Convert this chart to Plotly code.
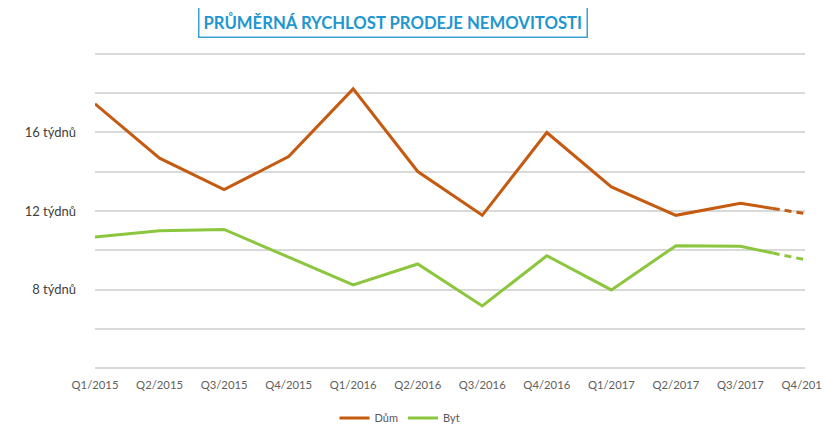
import plotly.graph_objects as go

quarters = ["Q1/2015", "Q2/2015", "Q3/2015", "Q4/2015", "Q1/2016", "Q2/2016",
            "Q3/2016", "Q4/2016", "Q1/2017", "Q2/2017", "Q3/2017", "Q4/2017"]
dum = [17.46, 14.69, 13.09, 14.77, 18.22, 14.01, 11.78, 16.0, 13.23, 11.78, 12.39, 11.87]
byt = [10.68, 10.99, 11.06, 9.64, 8.24, 9.30, 7.16, 9.72, 7.98, 10.23, 10.20, 9.52]
y_ticks = [4, 6, 8, 10, 12, 14, 16, 18, 20]
y_labels = ["", "", "8 týdnů", "", "12 týdnů", "", "16 týdnů", "", ""]
title_text = "PRŮMĚRNÁ RYCHLOST PRODEJE NEMOVITOSTI"

c_dum = "#C55A11"
c_byt = "#8CC63F"

fig = go.Figure()
xs = list(range(len(quarters)))


def add_series(name, vals, color):
    n = len(vals)
    mid_x = (xs[n - 2] + xs[n - 1]) / 2
    mid_y = (vals[n - 2] + vals[n - 1]) / 2
    fig.add_trace(go.Scatter(x=xs[:n - 1] + [mid_x], y=vals[:n - 1] + [mid_y], mode="lines",
                             name=name, line=dict(color=color, width=3), hoverinfo="skip"))
    fig.add_trace(go.Scatter(x=[mid_x, xs[n - 1]], y=[mid_y, vals[n - 1]], mode="lines",
                             showlegend=False, line=dict(color=color, width=3, dash="7px,5px"),
                             hoverinfo="skip"))


add_series("Dům", dum, c_dum)
add_series("Byt", byt, c_byt)

fig.update_layout(
    width=822, height=416,
    margin=dict(l=87, r=25, t=44, b=54, autoexpand=False),
    paper_bgcolor="white", plot_bgcolor="white",
    font=dict(family="Lato", color="#595959", size=12),
    showlegend=True,
    legend=dict(orientation="h", x=0.4296, xanchor="center", y=-0.151, yanchor="middle",
                font=dict(size=11, color="#595959"), itemwidth=30, tracegroupgap=0),
    xaxis=dict(range=[0, 11], tickmode="array", tickvals=xs, ticktext=quarters,
               showgrid=False, zeroline=False, showline=False, automargin=False,
               ticklabeloverflow="allow",
               tickfont=dict(size=11.3, color="#606060"), ticks="", ticklabelstandoff=7),
    yaxis=dict(range=[3.9, 20.1], tickmode="array", tickvals=y_ticks, ticktext=y_labels,
               showgrid=True, gridcolor="#D9D9D9", gridwidth=1.5, zeroline=False, showline=False,
               automargin=False,
               tickfont=dict(size=13, color="#404040"), ticks="", ticklabelstandoff=18),
    annotations=[dict(text="<b>" + title_text + "</b>", xref="paper", yref="paper",
                      x=0.4204, y=1.0943, xanchor="center", yanchor="middle", showarrow=False,
                      font=dict(size=16.7, color="#1E96CF", family="Lato"),
                      bordercolor="#3AA0D5", borderwidth=1.5, borderpad=4, bgcolor="white")],
)

fig.write_html("out.html")
